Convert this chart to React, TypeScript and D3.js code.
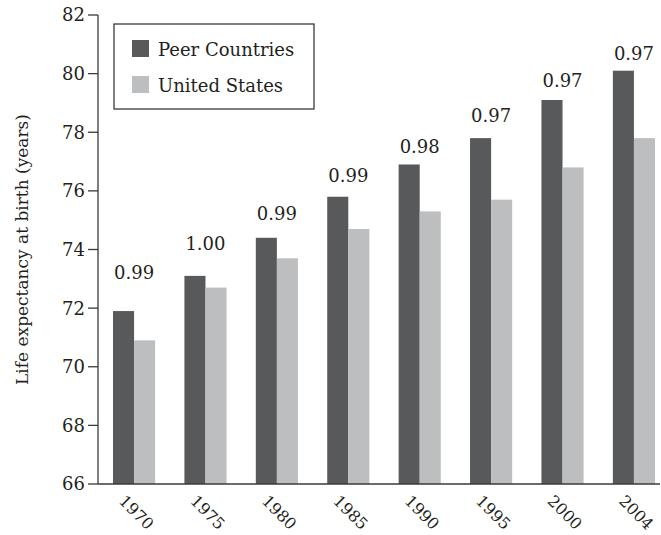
import React from "react";
import * as d3 from "d3";

const years = ["1970", "1975", "1980", "1985", "1990", "1995", "2000", "2004"];
const peerCountries = [71.9, 73.1, 74.4, 75.8, 76.9, 77.8, 79.1, 80.1];
const unitedStates = [70.9, 72.7, 73.7, 74.7, 75.3, 75.7, 76.8, 77.8];
const ratioLabels = ["0.99", "1.00", "0.99", "0.99", "0.98", "0.97", "0.97", "0.97"];
// label baseline anchor, in years of life expectancy
const ratioLabelAt = [73.0, 74.0, 75.0, 76.3, 77.3, 78.35, 79.55, 80.45];
const yTicks = [66, 68, 70, 72, 74, 76, 78, 80, 82];
const seriesNames = ["Peer Countries", "United States"];
const seriesColors = ["#58595b", "#bcbec0"];

const W = 661;
const H = 535;
const FONT = "'DejaVu Serif', 'Liberation Serif', serif";

export default function App() {
  const axisX = 98;
  const plotTop = 15;
  const plotBottom = 484;
  const plotRight = 660;

  const y = d3.scaleLinear().domain([66, 82]).range([plotBottom, plotTop]);
  const x = d3
    .scaleBand<string>()
    .domain(years)
    .range([axisX, plotRight])
    .paddingInner(0.41)
    .paddingOuter(0.14)
    .align(0.75);
  const sub = d3
    .scaleBand<string>()
    .domain(["peer", "us"])
    .range([0, x.bandwidth()]);

  const series = [
    { key: "peer", values: peerCountries, color: seriesColors[0] },
    { key: "us", values: unitedStates, color: seriesColors[1] },
  ];

  return (
    <svg
      width={W}
      height={H}
      style={{ position: "absolute", left: 0, top: 0, background: "#fff" }}
      fontFamily={FONT}
    >
      {/* bars */}
      {series.map((s) =>
        years.map((yr, i) => (
          <rect
            key={s.key + yr}
            x={(x(yr) as number) + (sub(s.key) as number)}
            y={y(s.values[i])}
            width={sub.bandwidth()}
            height={plotBottom - y(s.values[i])}
            fill={s.color}
          />
        ))
      )}

      {/* ratio labels */}
      {years.map((yr, i) => (
        <text
          key={"r" + yr}
          x={(x(yr) as number) + x.bandwidth() / 2}
          y={y(ratioLabelAt[i])}
          textAnchor="middle"
          fontSize={18}
          fill="#231f20"
        >
          {ratioLabels[i]}
        </text>
      ))}

      {/* y axis */}
      <line x1={axisX} x2={axisX} y1={plotTop} y2={plotBottom} stroke="#3a3a3a" strokeWidth={1.3} />
      {yTicks.map((t) => (
        <g key={"yt" + t}>
          <line x1={axisX - 10} x2={axisX} y1={y(t)} y2={y(t)} stroke="#3a3a3a" strokeWidth={1.3} />
          <text x={axisX - 13} y={y(t)} dy="0.36em" textAnchor="end" fontSize={18} fill="#231f20">
            {t}
          </text>
        </g>
      ))}

      {/* x axis */}
      <line x1={axisX} x2={plotRight} y1={plotBottom} y2={plotBottom} stroke="#3a3a3a" strokeWidth={1.3} />
      {years.map((yr) => {
        const cx = (x(yr) as number) + x.bandwidth() / 2 - 16;
        const cy = plotBottom + 18;
        return (
          <text
            key={"xt" + yr}
            x={cx}
            y={cy}
            transform={`rotate(45, ${cx}, ${cy})`}
            fontSize={16}
            fill="#231f20"
          >
            {yr}
          </text>
        );
      })}

      {/* y axis title */}
      <text
        transform={`translate(28, ${(plotTop + plotBottom) / 2}) rotate(-90)`}
        textAnchor="middle"
        fontSize={17}
        fill="#231f20"
      >
        Life expectancy at birth (years)
      </text>

      {/* legend */}
      <g>
        <rect x={114} y={24} width={200} height={85} fill="#fff" stroke="#3a3a3a" strokeWidth={1.3} />
        {seriesNames.map((n, i) => (
          <g key={n}>
            <rect x={132} y={40 + i * 36} width={17} height={17} fill={seriesColors[i]} />
            <text x={158} y={56 + i * 36} fontSize={18} fill="#231f20">
              {n}
            </text>
          </g>
        ))}
      </g>
    </svg>
  );
}
